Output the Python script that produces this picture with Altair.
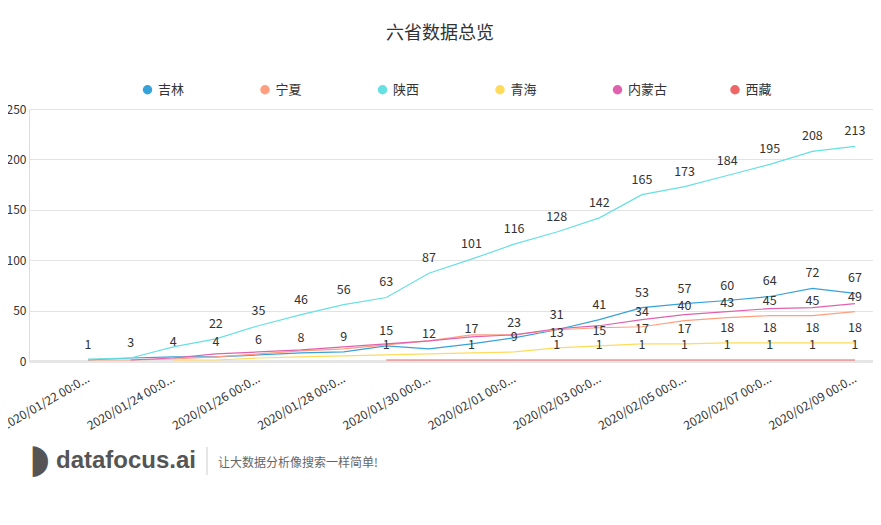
import altair as alt
import pandas as pd

# ---- data ----
dates = ["2020-01-22", "2020-01-23", "2020-01-24", "2020-01-25", "2020-01-26",
         "2020-01-27", "2020-01-28", "2020-01-29", "2020-01-30", "2020-01-31",
         "2020-02-01", "2020-02-02", "2020-02-03", "2020-02-04", "2020-02-05",
         "2020-02-06", "2020-02-07", "2020-02-08", "2020-02-09"]
provinces = ["吉林", "宁夏", "陕西", "青海", "内蒙古", "西藏"]
colors = ["#37A2DA", "#FF9F7F", "#67E0E3", "#FFDB5C", "#E062AE", "#EE6666"]

jilin = [1, 3, 4, 4, 6, 8, 9, 15, 12, 17, 23, 31, 41, 53, 57, 60, 64, 72, 67]
ningxia = [1, 1, 2, 4, 7, 10, 12, 16, 20, 26, 26, 31, 33, 34, 40, 43, 45, 45, 49]
shaanxi = [2, 3, 14, 22, 35, 46, 56, 63, 87, 101, 116, 128, 142, 165, 173, 184, 195, 208, 213]
qinghai = [None, None, 1, 1, 3, 4, 5, 6, 7, 8, 9, 13, 15, 17, 17, 18, 18, 18, 18]
neimenggu = [None, 1, 3, 7, 9, 11, 14, 17, 20, 24, 26, 32, 35, 41, 46, 49, 52, 53, 57]
xizang = [None, None, None, None, None, None, None, 1, 1, 1, 1, 1, 1, 1, 1, 1, 1, 1, 1]

# indices of points whose value label is visible in the reference (others hidden by overlap)
shown_labels = {
    "吉林": list(range(0, 19)),
    "宁夏": list(range(13, 19)),
    "陕西": list(range(3, 19)),
    "青海": list(range(10, 19)),
    "内蒙古": [],
    "西藏": [7, 9] + list(range(11, 19)),
}

y_ticks = [0, 50, 100, 150, 200, 250]
x_tick_dates = dates[::2]

series = [jilin, ningxia, shaanxi, qinghai, neimenggu, xizang]
rows = []
for p, vals in zip(provinces, series):
    for i, (d, v) in enumerate(zip(dates, vals)):
        if v is None:
            continue
        rows.append({"date": d, "province": p, "value": v,
                     "label": str(v) if i in shown_labels[p] else None})
df = pd.DataFrame(rows)


def ms(s):
    return int(pd.Timestamp(s, tz="UTC").value // 10**6)


day = 86400000
x_domain = [ms(dates[0]) - int(1.385 * day), ms(dates[-1]) + int(0.4225 * day)]
x_values = [ms(d) for d in x_tick_dates]

FONT = "Noto Sans CJK SC"

x_enc = alt.X(
    "date:T",
    scale=alt.Scale(type="utc", domain=x_domain),
    axis=alt.Axis(
        values=x_values,
        labelExpr="substring(utcFormat(datum.value, '%Y/%m/%d %H:%M:%S'), 0, 15) + '...'",
        labelAngle=-30, labelAlign="right", labelBaseline="middle",
        labelPadding=16, labelFontSize=12, labelColor="#333", labelFont=FONT,
        ticks=False, grid=False, domainColor="#e6e6e6", domainWidth=3,
        title=None, labelOverlap=False, labelBound=False, labelFlush=False,
    ),
)
y_enc = alt.Y(
    "value:Q",
    scale=alt.Scale(domain=[0, 250], nice=False),
    axis=alt.Axis(
        values=y_ticks, title=None, domain=False, ticks=False,
        labelPadding=3, labelFontSize=12, labelColor="#333", labelFont=FONT,
        gridColor="#e3e3e3", gridWidth=1,
    ),
)

lines = alt.Chart(df).mark_line(strokeWidth=1.2).encode(
    x=x_enc, y=y_enc,
    stroke=alt.Stroke("province:N", scale=alt.Scale(domain=provinces, range=colors), legend=None),
)

legend_pts = alt.Chart(df).transform_filter("false").mark_point(filled=True).encode(
    x="date:T", y="value:Q",
    color=alt.Color(
        "province:N", scale=alt.Scale(domain=provinces, range=colors),
        legend=alt.Legend(
            orient="none", legendX=112, legendY=-26, direction="horizontal",
            title=None, symbolType="circle", symbolSize=90, symbolStrokeWidth=0,
            labelFontSize=13, labelColor="#333", labelFont=FONT,
            gridAlign="all", columnPadding=60.5, symbolOpacity=1,
        ),
    ),
)

labels = alt.Chart(df).transform_filter("datum.label != null").mark_text(
    dy=-15, fontSize=12.5, color="#333", font=FONT, baseline="middle",
).encode(x="date:T", y="value:Q", text="label:N")

wm_logo = alt.Chart(pd.DataFrame({"t": ["◗"]})).mark_text(
    fontSize=40, color="#555", font="DejaVu Sans", align="left", baseline="middle",
).encode(x=alt.value(0), y=alt.value(351), text="t:N")
wm_name = alt.Chart(pd.DataFrame({"t": ["datafocus.ai"]})).mark_text(
    fontSize=24, fontWeight="bold", color="#555", font="Liberation Sans",
    align="left", baseline="middle",
).encode(x=alt.value(27), y=alt.value(352), text="t:N")
wm_sep = alt.Chart(pd.DataFrame({"t": [1]})).mark_rule(color="#ccc").encode(
    x=alt.value(178), y=alt.value(338), y2=alt.value(366))
wm_slogan = alt.Chart(pd.DataFrame({"t": ["让大数据分析像搜索一样简单!"]})).mark_text(
    fontSize=12, color="#666", font=FONT, align="left", baseline="middle",
).encode(x=alt.value(189), y=alt.value(354), text="t:N")

chart = alt.layer(legend_pts, lines, labels, wm_logo, wm_name, wm_sep, wm_slogan).properties(
    width=844, height=252,
    title=alt.TitleParams("六省数据总览", fontSize=18, fontWeight="normal", color="#333",
                          font=FONT, anchor="middle", dx=-11, offset=40),
    autosize=alt.AutoSizeParams(type="none"),
    padding={"left": 21, "top": 101, "right": 0, "bottom": 130},
).configure_view(stroke=None).configure(background="white")

chart.save("out.html", embed_options={"renderer": "svg", "actions": False})
